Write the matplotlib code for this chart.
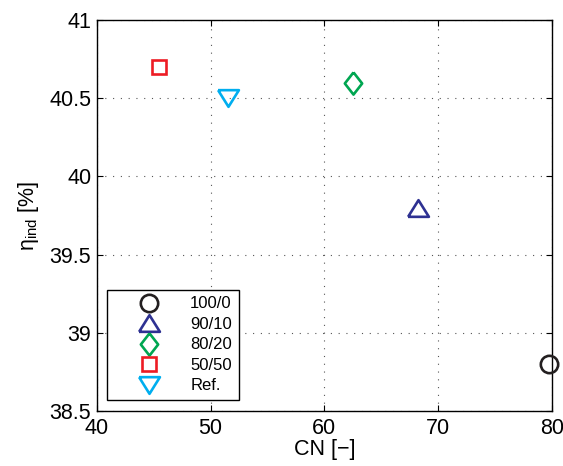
import numpy as np
import matplotlib.pyplot as plt
from matplotlib.lines import Line2D

plt.rcParams['font.family'] = ['Liberation Sans', 'DejaVu Sans']
plt.rcParams['mathtext.fontset'] = 'custom'
plt.rcParams['mathtext.rm'] = 'Liberation Sans'
plt.rcParams['mathtext.it'] = 'Liberation Sans'

# Mischungsverhaeltnisse und Messwerte
mischungen = ['100/0', '90/10', '80/20', '50/50', 'Ref.']
cn = [79.8, 68.2, 62.5, 45.5, 51.5]
eta_ind = [38.8, 39.8, 40.6, 40.7, 40.5]

x_ticks = [40, 50, 60, 70, 80]
y_ticks = [38.5, 39, 39.5, 40, 40.5, 41]

# Marker wie in MATLAB (Dreiecke breiter als hoch, Raute schlank)
tri_up = [(-1, -0.8), (1, -0.8), (0, 0.8), (-1, -0.8)]
tri_down = [(-1, 0.8), (1, 0.8), (0, -0.8), (-1, 0.8)]
raute = [(0, 1), (0.78, 0), (0, -1), (-0.78, 0), (0, 1)]

marker = ['o', tri_up, raute, 's', tri_down]
groesse = [12.5, 15, 16, 9.8, 15]
farben = ['#231f20', '#2e3192', '#00a651', '#ed1c24', '#00aeef']

fig = plt.figure(figsize=(5.63, 4.66), dpi=100)
ax = fig.add_axes([0.172, 0.118, 0.808, 0.839])

for x, y, m, s, c, lab in zip(cn, eta_ind, marker, groesse, farben, mischungen):
    ax.plot(x, y, linestyle='none', marker=m, markersize=s, markerfacecolor='none',
            markeredgecolor=c, markeredgewidth=1.9, label=lab, clip_on=False, zorder=5)

ax.set_xlim(40, 80)
ax.set_ylim(38.5, 41)
ax.set_xticks(x_ticks)
ax.set_yticks(y_ticks)
ax.set_yticklabels(['38.5', '39', '39.5', '40', '40.5', '41'])
ax.tick_params(direction='in', top=True, right=True, length=4, width=0.8,
               labelsize=15.5, pad=4)
ax.tick_params(axis='x', pad=5)
ax.grid(True, linestyle=(0, (1, 6)), color='#555555', linewidth=0.8)
for sp in ax.spines.values():
    sp.set_linewidth(1.0)

ax.set_xlabel('CN [\u2212]', fontsize=15.5, labelpad=0)
ax.set_ylabel(r'$\mathregular{\eta_{ind}}$ [%]', fontsize=15.5, labelpad=6)

leg = ax.legend(loc='lower left', bbox_to_anchor=(0.022, 0.028), borderaxespad=0,
                fontsize=12, handlelength=4.3, handletextpad=0.3, labelspacing=0.33,
                borderpad=0.4, fancybox=False, edgecolor='black', framealpha=1)
leg.get_frame().set_linewidth(1.0)

fig.savefig('out.png', dpi=100)
